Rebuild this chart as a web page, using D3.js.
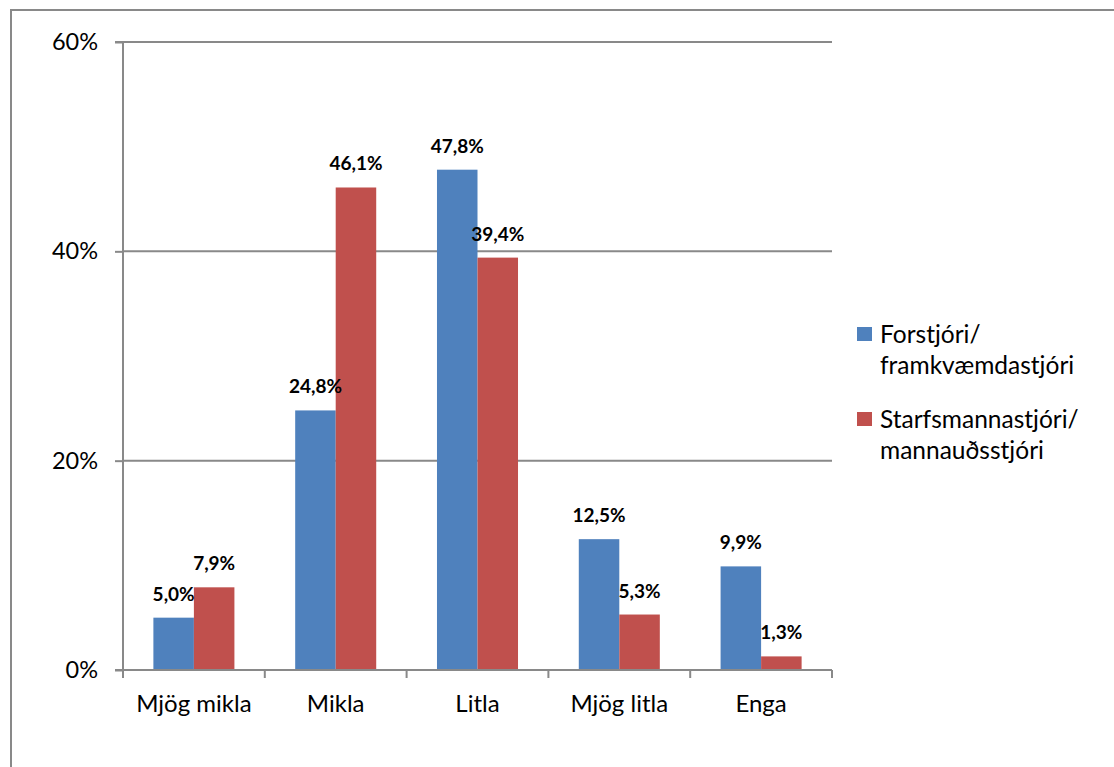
<!DOCTYPE html>
<html>
<head>
<meta charset="utf-8">
<script src="https://cdn.jsdelivr.net/npm/d3@7"></script>
<style>
  html, body { margin: 0; padding: 0; background: #fff; }
  svg { display: block; }
  text { font-family: Lato, "Open Sans", sans-serif; fill: #000; }
</style>
</head>
<body>
<svg id="chart" width="1114" height="767"></svg>
<script>
// Categories on the x axis
const categories = ["Mjög mikla", "Mikla", "Litla", "Mjög litla", "Enga"];
// Series names, legend lines split after the slash
const legendLines = [["Forstjóri/", "framkvæmdastjóri"], ["Starfsmannastjóri/", "mannauðsstjóri"]];
// Percent values per series
const forstjori = [5.0, 24.8, 47.8, 12.5, 9.9];
const starfsmannastjori = [7.9, 46.1, 39.4, 5.3, 1.3];
// Y axis ticks
const yTicks = [0, 20, 40, 60];

const colors = ["#4F81BD", "#C0504D"];
const lineColor = "#898989";

const svg = d3.select("#chart");

// outer chart frame (open on the right and bottom edges)
svg.append("rect")
  .attr("x", 11).attr("y", 10)
  .attr("width", 1200).attr("height", 900)
  .attr("fill", "none")
  .attr("stroke", lineColor)
  .attr("stroke-width", 2);

const plot = { left: 123, right: 832, top: 42, bottom: 670 };

const x0 = d3.scaleBand().domain(categories).range([plot.left, plot.right]).padding(0);
const x1 = d3.scaleBand().domain([0, 1]).range([0, x0.bandwidth()]).paddingInner(0).paddingOuter(0.75);
const y = d3.scaleLinear().domain([0, 60]).range([plot.bottom, plot.top]);

// horizontal gridlines
svg.append("g")
  .selectAll("line")
  .data(yTicks.filter(t => t > 0))
  .join("line")
  .attr("x1", plot.left).attr("x2", plot.right)
  .attr("y1", d => y(d)).attr("y2", d => y(d))
  .attr("stroke", lineColor).attr("stroke-width", 2);

// bars
const rows = categories.map((c, i) => ({ cat: c, vals: [forstjori[i], starfsmannastjori[i]] }));
const groups = svg.append("g").selectAll("g")
  .data(rows)
  .join("g")
  .attr("transform", d => `translate(${x0(d.cat)},0)`);

groups.selectAll("rect")
  .data(d => d.vals.map((v, s) => ({ v, s })))
  .join("rect")
  .attr("x", d => x1(d.s))
  .attr("width", x1.bandwidth())
  .attr("y", d => y(d.v))
  .attr("height", d => y(0) - y(d.v))
  .attr("fill", d => colors[d.s]);

// value labels
const fmt = v => v.toFixed(1).replace(".", ",") + "%";
groups.selectAll("text")
  .data(d => d.vals.map((v, s) => ({ v, s })))
  .join("text")
  .attr("x", d => x1(d.s) + x1.bandwidth() / 2)
  .attr("y", d => y(d.v) - 17)
  .attr("text-anchor", "middle")
  .attr("font-weight", "bold")
  .attr("font-size", "19px")
  .text(d => fmt(d.v));

// y axis
const yAxis = d3.axisLeft(y)
  .tickValues(yTicks)
  .tickSize(8)
  .tickPadding(17)
  .tickFormat(d => d + "%");
const gy = svg.append("g").attr("transform", `translate(${plot.left},0)`).call(yAxis);
gy.select(".domain").attr("stroke", lineColor).attr("stroke-width", 2).attr("d", `M-8,${plot.top}H0V${plot.bottom}`);
gy.selectAll(".tick line").attr("stroke", lineColor).attr("stroke-width", 2);
gy.selectAll(".tick text").attr("font-size", "23.5px").attr("font-family", "Lato, sans-serif").attr("fill", "#000");

// x axis: ticks at category boundaries
svg.append("line")
  .attr("x1", plot.left - 8).attr("x2", plot.right)
  .attr("y1", plot.bottom).attr("y2", plot.bottom)
  .attr("stroke", lineColor).attr("stroke-width", 2);
const bounds = categories.map(c => x0(c)).concat([plot.right]);
svg.append("g").selectAll("line")
  .data(bounds)
  .join("line")
  .attr("x1", d => d).attr("x2", d => d)
  .attr("y1", plot.bottom).attr("y2", plot.bottom + 8)
  .attr("stroke", lineColor).attr("stroke-width", 2);
svg.append("g").selectAll("text")
  .data(categories)
  .join("text")
  .attr("x", d => x0(d) + x0.bandwidth() / 2)
  .attr("y", 712)
  .attr("text-anchor", "middle")
  .attr("font-size", "24px")
  .text(d => d);

// legend
const legend = svg.append("g");
const legendTop = [334, 419];
legendLines.forEach((lines, s) => {
  legend.append("rect")
    .attr("x", 857).attr("y", legendTop[s] - 7)
    .attr("width", 15).attr("height", 14)
    .attr("fill", colors[s]);
  lines.forEach((ln, k) => {
    legend.append("text")
      .attr("x", 880)
      .attr("y", legendTop[s] + k * 31)
      .attr("dy", "0.35em")
      .attr("font-size", "24.5px")
      .text(ln);
  });
});
</script>
</body>
</html>
